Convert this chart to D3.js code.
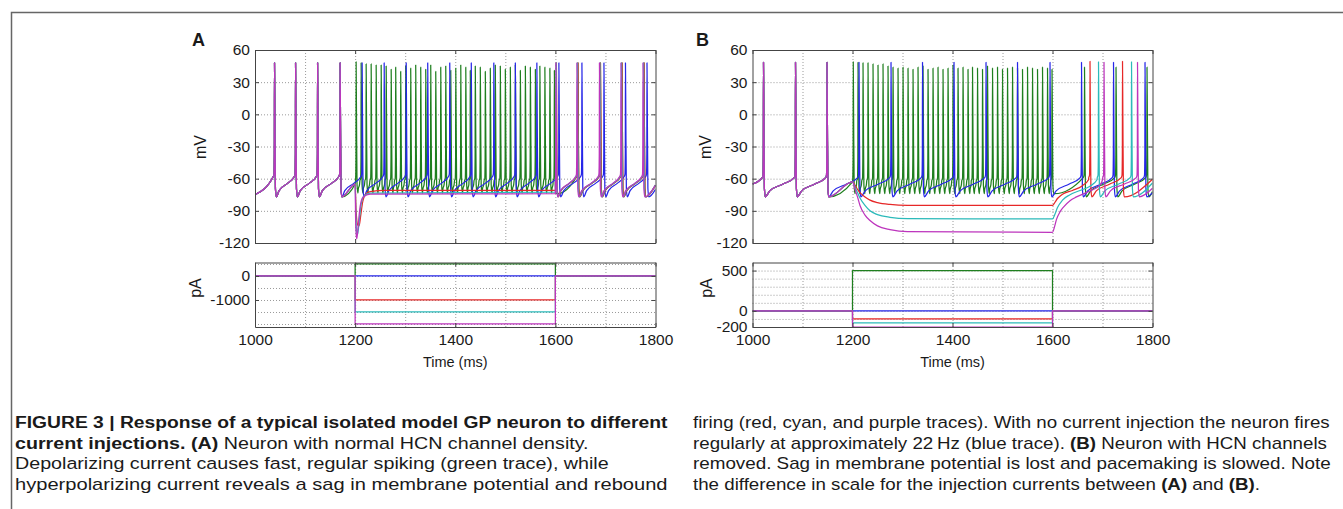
<!DOCTYPE html>
<html>
<head>
<meta charset="utf-8">
<script src="https://cdn.jsdelivr.net/npm/d3@7"></script>
<style>
body { margin: 0; background: #fff; }
svg text { font-family: "Liberation Sans", Arial, sans-serif; fill: #1a1a1a; }
</style>
</head>
<body>
<svg id="fig" width="1343" height="509"></svg>
<script>
// ---- axes ----
var timeTicks = [1000, 1200, 1400, 1600, 1800];
var timeGrid  = [1100, 1200, 1300, 1400, 1500, 1600, 1700];
var mvTicks   = [60, 30, 0, -30, -60, -90, -120];
var mvGrid    = [30, 0, -30, -60, -90];
var aPaTicks  = [0, -1000];
var aPaGrid   = [500, 0, -500, -1000, -1500, -2000];
var bPaTicks  = [500, 0, -200];
var bPaGrid   = [500, 400, 300, 200, 100, 0, -100];

// ---- traces: order of drawing ----
var traceColors = ["#1f7f1f", "#2626e8", "#e62828", "#2cbaba", "#bd35bd"]; // green, blue, red, cyan, purple
var stimOn = 1200, stimOff = 1600;
var aCurrents = [500, 0, -1000, -1500, -2000];
var bCurrents = [500, 0, -100, -150, -200];

// ---- panel A, membrane potential (spike times in ms, levels in mV) ----
var aPreSpikes   = [1039, 1081, 1125, 1170];
var aBlueSpikes  = [1214, 1258, 1302, 1345, 1389, 1432, 1477, 1520, 1563, 1607, 1653, 1697, 1740, 1783];
var aGreenSpikes = [1202, 1212, 1222, 1232, 1242, 1252, 1262, 1272, 1281, 1291, 1301, 1311, 1321, 1331,
                    1341, 1351, 1361, 1371, 1381, 1391, 1401, 1411, 1421, 1430, 1440, 1450, 1460, 1470,
                    1480, 1490, 1500, 1510, 1520, 1530, 1540, 1550, 1560, 1569, 1579, 1589, 1598];
var aGreenPeaks  = [49, 48, 47, 47, 46, 46, 45, 42, 44, 40, 45, 43, 46, 44, 42, 46, 40, 44, 45, 41, 43,
                    46, 44, 41, 45, 44, 40, 43, 46, 45, 42, 44, 46, 41, 45, 44, 42, 45, 44, 43, 41];
var aGreenPost   = [1645, 1690, 1733, 1777];
var aRedHold     = [[1200, -65], [1202, -90], [1205, -103], [1208, -104], [1211, -95], [1215, -82],
                    [1220, -75], [1230, -72], [1260, -71], [1600, -71]];
var aCyanHold    = [[1200, -65], [1201.5, -95], [1203.5, -111], [1205, -112], [1208, -100], [1212, -84],
                    [1218, -76], [1230, -73.5], [1600, -72.5]];
var aPurpleHold  = [[1200, -65], [1201, -98], [1202.5, -114], [1203.5, -116], [1206, -104], [1210, -86],
                    [1216, -77], [1230, -74.5], [1600, -74]];
var aRedPost     = [1602, 1645, 1690, 1733, 1777];
var aCyanPost    = [1601.5, 1644, 1689, 1732, 1776];
var aPurplePost  = [1601, 1643, 1688, 1731, 1775];

// ---- panel B, HCN removed ----
var bPreSpikes   = [1022, 1086, 1149];
var bBlueSpikes  = [1213, 1277, 1340, 1403, 1467, 1530, 1595, 1658, 1722, 1785];
var bGreenSpikes = [1201.5, 1211, 1221, 1231, 1241, 1251, 1261, 1271, 1281, 1291, 1301, 1311, 1321, 1331,
                    1341, 1351, 1361, 1371, 1381, 1391, 1401, 1411, 1421, 1431, 1440, 1450, 1460, 1470,
                    1480, 1490, 1500, 1510, 1520, 1530, 1540, 1550, 1560, 1570, 1580, 1590, 1599];
var bGreenPeaks  = [49, 48.5, 48, 48, 47, 46, 47, 45, 44, 43, 44, 43, 42, 44, 45, 42, 43, 44, 42, 43, 46,
                    43, 44, 42, 44, 43, 42, 45, 43, 44, 42, 43, 44, 43, 42, 44, 43, 42, 44, 43, 42];
var bGreenPost   = [1664, 1727, 1789];
var bRedHold     = [[1200, -63], [1205, -66], [1210, -70], [1215, -73], [1225, -77], [1235, -80],
                    [1250, -82.3], [1275, -84], [1310, -84.8], [1600, -85]];
var bCyanHold    = [[1200, -63], [1205, -68], [1210, -73], [1215, -78], [1225, -85], [1235, -90],
                    [1250, -93.5], [1275, -96], [1310, -97.3], [1600, -97.5]];
var bPurpleHold  = [[1200, -63], [1205, -70], [1210, -77], [1215, -85], [1225, -94], [1235, -99],
                    [1250, -104], [1275, -107.5], [1310, -109.5], [1600, -110]];
var bRedRise     = [[1600, -85], [1605, -82], [1610, -78.5], [1620, -74.5], [1640, -71], [1660, -66.5], [1672, -61]];
var bCyanRise    = [[1600, -97.5], [1605, -93], [1610, -87], [1620, -80], [1635, -75], [1655, -71], [1675, -67], [1689, -61]];
var bPurpleRise  = [[1600, -110], [1604, -105], [1608, -98], [1615, -91], [1622, -86.5], [1635, -80.5],
                    [1648, -77], [1675, -71.5], [1695, -66], [1700, -61]];
var bRedPost     = [1675, 1740];
var bCyanPost    = [1692, 1758];
var bPurplePost  = [1703, 1770];

// ---- caption: [text, bold] runs; right end (px) of the long lines, null = use column average ----
var captionLeft = [
	[["FIGURE 3 | Response of a typical isolated model GP neuron to different", true]],
	[["current injections. (A)", true], [" Neuron with normal HCN channel density.", false]],
	[["Depolarizing current causes fast, regular spiking (green trace), while", false]],
	[["hyperpolarizing current reveals a sag in membrane potential and rebound", false]]
];
var captionLeftEnds = [668, null, null, 668];
var captionRight = [
	[["firing (red, cyan, and purple traces). With no current injection the neuron fires", false]],
	[["regularly at approximately 22\u2009Hz (blue trace). ", false], ["(B)", true], [" Neuron with HCN channels", false]],
	[["removed. Sag in membrane potential is lost and pacemaking is slowed. Note", false]],
	[["the difference in scale for the injection currents between ", false], ["(A)", true], [" and ", false], ["(B)", true], [".", false]]
];
var captionRightEnds = [1330, 1327, 1331, null];

var svg = d3.select("#fig");

// figure frame
svg.append("path")
	.attr("d", "M11.5,509V12.5H1343")
	.attr("fill", "none")
	.attr("stroke", "#666")
	.attr("stroke-width", 1.5);

// one spike train: ramp, spike, trough, ramp ... from (t0,v0) to (t1,v1)
function train(t0, v0, spikes, t1, v1, trough, thr, peak) {
	var pts = [[t0, v0]];
	var prevEnd = null;
	spikes.forEach(function(sp, i) {
		var pk = Array.isArray(peak) ? peak[i] : peak;
		if (prevEnd !== null) {
			var L = (sp - 1) - prevEnd;
			pts.push([prevEnd + 0.15 * L, trough + 0.28 * (thr - trough)]);
			pts.push([prevEnd + 0.6 * L, trough + 0.6 * (thr - trough)]);
		}
		pts.push([sp - 2.5, thr - 2], [sp - 1, thr], [sp - 0.3, thr + 20], [sp, pk],
			[sp + 0.7, 0], [sp + 1.8, trough + 8], [sp + 3.5, trough]);
		prevEnd = sp + 3.5;
	});
	pts.push([t1, v1]);
	return pts;
}

function clean(pts) {
	var out = [];
	pts.forEach(function(p) {
		if (p[0] <= 1800 && (!out.length || p[0] > out[out.length - 1][0])) out.push(p);
	});
	return out;
}

var aNorm = [-77, -56, 48];
var bNorm = [-77, -57, 48.5];

function tr(t0, v0, sp, t1, v1, s, pk) {
	return train(t0, v0, sp, t1, v1, s[0], s[1], pk === undefined ? s[2] : pk);
}

var aPre = tr(1000, -75, aPreSpikes, 1200, -65, aNorm);
var aTraces = [
	aPre.concat(tr(1200, -65, aGreenSpikes, 1604, -74, [-73.5, -60], aGreenPeaks),
		tr(1604, -76, aGreenPost, 1800, -66, aNorm)),
	tr(1000, -75, aPreSpikes.concat(aBlueSpikes), 1800, -70, aNorm),
	aPre.concat(aRedHold, tr(1600, -71, aRedPost, 1800, -66.5, aNorm)),
	aPre.concat(aCyanHold, tr(1600, -72.5, aCyanPost, 1800, -66, aNorm)),
	aPre.concat(aPurpleHold, tr(1600, -74, aPurplePost, 1800, -66, aNorm))
].map(clean);

var bPre = tr(1000, -65, bPreSpikes, 1200, -63, bNorm);
function last(a) { return a[a.length - 1]; }
var bTraces = [
	bPre.concat(tr(1200, -63, bGreenSpikes, 1604, -74, [-74, -60], bGreenPeaks),
		tr(1604, -74, bGreenPost, 1800, -72, bNorm, 44)),
	tr(1000, -65, bPreSpikes.concat(bBlueSpikes), 1800, -73, bNorm),
	bPre.concat(bRedHold, bRedRise, tr(last(bRedRise)[0], last(bRedRise)[1], bRedPost, 1800, -60.6, bNorm, 49.5)),
	bPre.concat(bCyanHold, bCyanRise, tr(last(bCyanRise)[0], last(bCyanRise)[1], bCyanPost, 1800, -64, bNorm, 49)),
	bPre.concat(bPurpleHold, bPurpleRise, tr(last(bPurpleRise)[0], last(bPurpleRise)[1], bPurplePost, 1800, -69, bNorm))
].map(clean);

function currentPts(c) {
	return [[1000, 0], [stimOn, 0], [stimOn, c], [stimOff, c], [stimOff, 0], [1800, 0]];
}

var topY = 50, topB = 243, botY = 262.5, botB = 327;
var plain = function(d) { return String(d); };

function styleAxis(g) {
	g.selectAll(".domain").attr("stroke", "#444");
	g.selectAll(".tick line").attr("stroke", "#444");
	g.selectAll("text").attr("font-size", "15.5px").attr("fill", "#1a1a1a")
		.attr("font-family", "'Liberation Sans', Arial, sans-serif");
}

function grid(g) {
	g.selectAll(".domain").remove();
	g.selectAll(".tick line").attr("stroke", "#9a9a9a").attr("stroke-dasharray", "1,2");
	g.selectAll("text").remove();
}

function plot(id, x, y, top, bottom, xGrid, yGrid, yTicks, showX, lines, currentStep) {
	var left = x.range()[0], right = x.range()[1];
	var g = svg.append("g");

	g.append("clipPath").attr("id", id)
		.append("rect").attr("x", left).attr("y", top).attr("width", right - left).attr("height", bottom - top);

	g.append("rect").attr("x", left).attr("y", top).attr("width", right - left).attr("height", bottom - top)
		.attr("fill", "#fff");

	g.append("g").attr("transform", "translate(0," + bottom + ")")
		.call(d3.axisBottom(x).tickValues(xGrid).tickSize(-(bottom - top)).tickFormat(""))
		.call(grid);
	g.append("g").attr("transform", "translate(" + left + ",0)")
		.call(d3.axisLeft(y).tickValues(yGrid).tickSize(-(right - left)).tickFormat(""))
		.call(grid);

	var line = currentStep ? d3.line().x(function(d) { return x(d[0]); }).y(function(d) { return y(d[1]); })
		: d3.line().x(function(d) { return x(d[0]); }).y(function(d) { return y(d[1]); }).curve(d3.curveMonotoneX);

	g.append("g").attr("clip-path", "url(#" + id + ")")
		.selectAll("path").data(lines).join("path")
		.attr("d", line)
		.attr("fill", "none")
		.attr("stroke", function(d, i) { return traceColors[i]; })
		.attr("stroke-width", 1.25)
		.attr("stroke-linejoin", "round");

	// box with inward ticks
	g.append("g").attr("transform", "translate(" + left + ",0)")
		.call(d3.axisLeft(y).tickValues(yTicks).tickSizeInner(-4).tickSizeOuter(0).tickPadding(5).tickFormat(plain))
		.call(styleAxis);
	g.append("g").attr("transform", "translate(" + right + ",0)")
		.call(d3.axisRight(y).tickValues(yTicks).tickSizeInner(-4).tickSizeOuter(0).tickFormat(""))
		.call(styleAxis);
	g.append("g").attr("transform", "translate(0," + top + ")")
		.call(d3.axisTop(x).tickValues(timeTicks).tickSizeInner(-4).tickSizeOuter(0).tickFormat(""))
		.call(styleAxis);
	var xb = d3.axisBottom(x).tickValues(timeTicks).tickSizeInner(-4).tickSizeOuter(0).tickPadding(7)
		.tickFormat(showX ? plain : "");
	g.append("g").attr("transform", "translate(0," + bottom + ")")
		.call(xb)
		.call(styleAxis);
	return g;
}

function panel(letter, left, right, traces, currents, paDomain, paTicks, paGrid, labelX, mvX, paX) {
	var x = d3.scaleLinear().domain([1000, 1800]).range([left, right]);
	var yV = d3.scaleLinear().domain([-120, 60]).range([topB, topY]);
	var yI = d3.scaleLinear().domain(paDomain).range([botB, botY]);

	plot("clip" + letter + "1", x, yV, topY, topB, timeGrid, mvGrid, mvTicks, false, traces, false);
	plot("clip" + letter + "2", x, yI, botY, botB, timeGrid, paGrid, paTicks, true,
		currents.map(currentPts), true);

	svg.append("text").attr("x", labelX).attr("y", 45.5)
		.attr("font-size", "18px").attr("font-weight", "bold").text(letter);

	svg.append("text").attr("transform", "translate(" + mvX + ",147) rotate(-90)")
		.attr("text-anchor", "middle").attr("dy", "0.35em").attr("font-size", "16px").text("mV");
	svg.append("text").attr("transform", "translate(" + paX + ",288) rotate(-90)")
		.attr("text-anchor", "middle").attr("dy", "0.35em").attr("font-size", "16px").text("pA");

	svg.append("text").attr("x", (left + right) / 2).attr("y", 367)
		.attr("text-anchor", "middle").attr("font-size", "14.5px").text("Time (ms)");
}

panel("A", 255, 655.5, aTraces, aCurrents, [-2125, 562], aPaTicks, aPaGrid, 192, 200, 195);
panel("B", 752.5, 1152.5, bTraces, bCurrents, [-200, 600], bPaTicks, bPaGrid, 696, 705.5, 706);

// caption: each long line squeezed to its width, the others by the column average
var baselines = [428.5, 449, 469.5, 490];
function column(lines, x0, ends) {
	var texts = lines.map(function(parts, i) {
		var t = svg.append("text").attr("x", x0).attr("y", baselines[i])
			.attr("font-size", "17px").attr("fill", "#222");
		parts.forEach(function(p) {
			t.append("tspan").attr("font-weight", p[1] ? "bold" : "normal").text(p[0]);
		});
		return t;
	});
	var scales = texts.map(function(t, i) {
		return ends[i] === null ? null : (ends[i] - x0) / t.node().getComputedTextLength();
	});
	var mean = d3.mean(scales.filter(function(s) { return s !== null; }));
	texts.forEach(function(t, i) {
		var sx = scales[i] === null ? mean : scales[i];
		t.attr("transform", "translate(" + x0 + ",0) scale(" + sx + ",1) translate(" + (-x0) + ",0)");
	});
}
column(captionLeft, 15, captionLeftEnds);
column(captionRight, 693, captionRightEnds);
</script>
</body>
</html>
